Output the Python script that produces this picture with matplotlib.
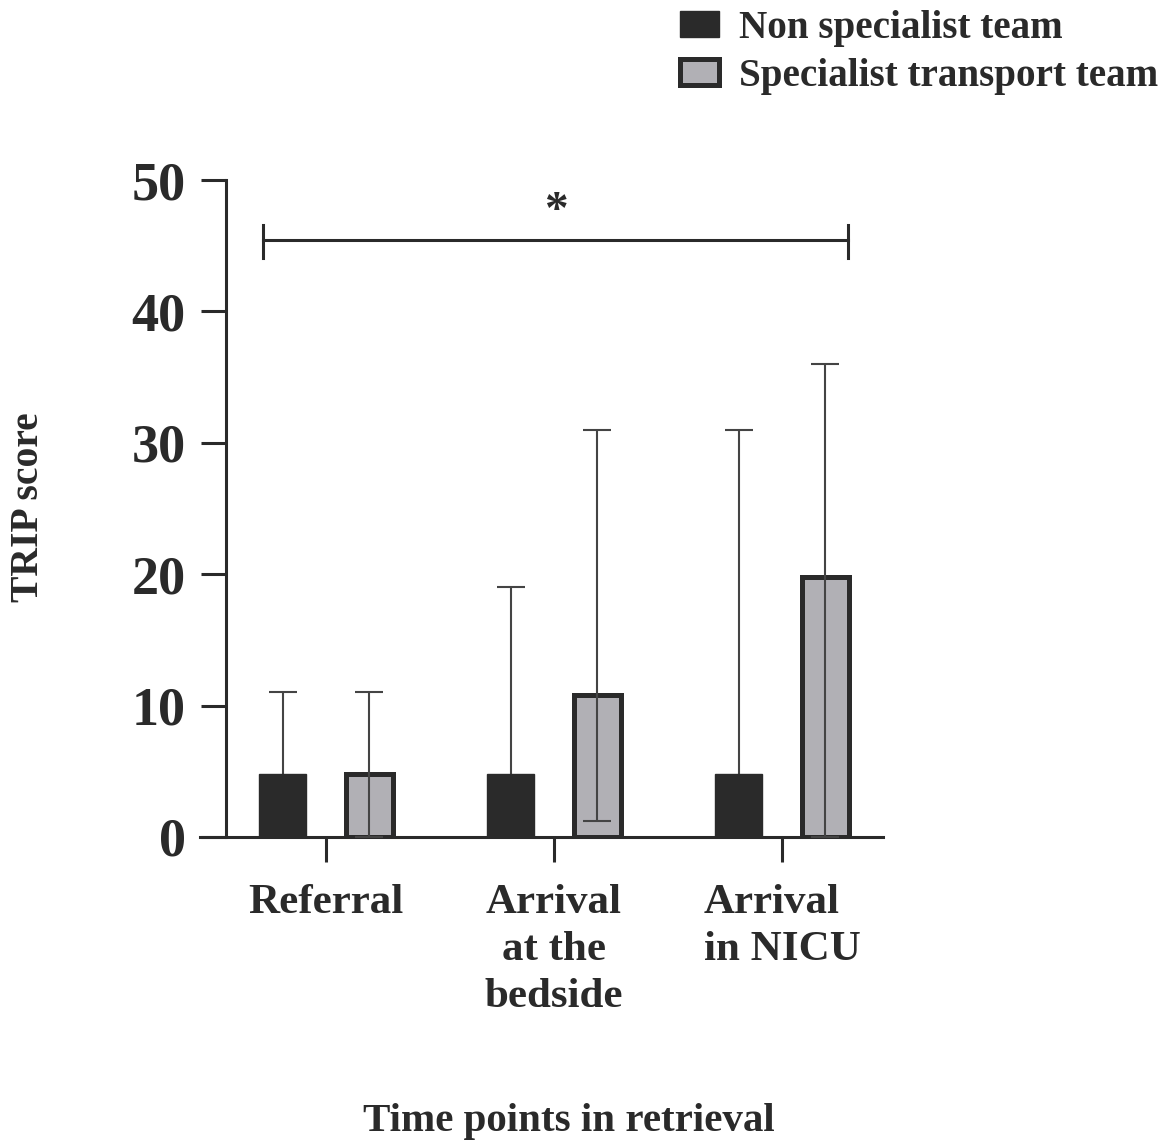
import matplotlib
matplotlib.use('Agg')
import matplotlib.pyplot as plt
import numpy as np

plt.rcParams['font.family'] = ['Liberation Serif', 'DejaVu Serif']
plt.rcParams['font.weight'] = 'bold'

# data
time_points = ['Referral', 'Arrival\nat the\nbedside', 'Arrival\nin NICU']
teams = ['Non specialist team', 'Specialist transport team']
non_spec_mean = [4.8, 4.8, 4.8]
non_spec_upper = [11, 19, 31]
spec_mean = [4.8, 10.8, 19.8]
spec_upper = [11, 31, 36]
spec_lower = [0, 1.2, 0]

dark = '#2a2a2a'
grey = '#b1b0b5'

fig = plt.figure(figsize=(11.67, 11.45), dpi=100)
W, H = 1167, 1145
ax = fig.add_axes([200 / W, 1 - 837 / H, 683 / W, 657 / H])

x = np.arange(len(time_points))
off = 0.19
bw = 0.205

ax.bar(x - off, non_spec_mean, bw, color=dark, edgecolor=dark, linewidth=1, zorder=2,
       label=teams[0])
ax.bar(x + off, spec_mean, bw, color=grey, edgecolor=dark, linewidth=3.6, zorder=2,
       label=teams[1])

# error bars: non specialist drawn under the bar, specialist on top of it
m1 = np.array(non_spec_mean)
ax.errorbar(x - off, m1, yerr=[m1, np.array(non_spec_upper) - m1],
            fmt='none', ecolor='#444444', elinewidth=1.5, capsize=10, capthick=1.5,
            zorder=1)
m2 = np.array(spec_mean)
ax.errorbar(x + off, m2, yerr=[m2 - np.array(spec_lower), np.array(spec_upper) - m2],
            fmt='none', ecolor='#444444', elinewidth=1.5, capsize=10, capthick=1.5,
            zorder=3)

# significance bracket
bx0, bx1, by = -0.276, 2.289, 45.4
ax.plot([bx0, bx1], [by, by], color=dark, lw=2.2, clip_on=False)
ax.plot([bx0, bx0], [by - 1.3, by + 1.2], color=dark, lw=2.2, clip_on=False)
ax.plot([bx1, bx1], [by - 1.3, by + 1.2], color=dark, lw=2.2, clip_on=False)
ax.text((bx0 + bx1) / 2, 47.6, '*', ha='center', va='center', fontsize=34,
        fontweight='bold', color=dark)

ax.set_xlim(-0.553, 2.443)
ax.set_ylim(0, 50)
ax.set_yticks([0, 10, 20, 30, 40, 50])
ax.set_xticks(x)
labels = ax.set_xticklabels(time_points, fontsize=31, fontweight='bold', color=dark,
                            linespacing=1.3)
labels[2].set_multialignment('left')
ax.tick_params(axis='y', length=18, width=2.2, pad=11, labelsize=39, colors=dark)
ax.tick_params(axis='x', length=18, width=2.2, pad=16, colors=dark)

ax.spines['top'].set_visible(False)
ax.spines['right'].set_visible(False)
ax.spines['left'].set_position(('data', -0.439))
ax.spines['left'].set_bounds(0, 50)
for s in ['left', 'bottom']:
    ax.spines[s].set_linewidth(2.2)
    ax.spines[s].set_color(dark)

fig.text(29 / W, 1 - 507 / H, 'TRIP score', rotation=90, ha='center', va='center',
         fontsize=28.5, fontweight='bold', color=dark)
fig.text(569 / W, 1 - 1122 / H, 'Time points in retrieval', ha='center', va='center',
         fontsize=29.5, fontweight='bold', color=dark)

fig.legend(loc='upper left', bbox_to_anchor=(680 / W, 1 - 10 / H), frameon=False,
           fontsize=28.2, handlelength=1.0, handleheight=0.65, handletextpad=0.5,
           labelspacing=0.28, borderpad=0, borderaxespad=0, labelcolor=dark)

fig.savefig('out.png', dpi=100)
